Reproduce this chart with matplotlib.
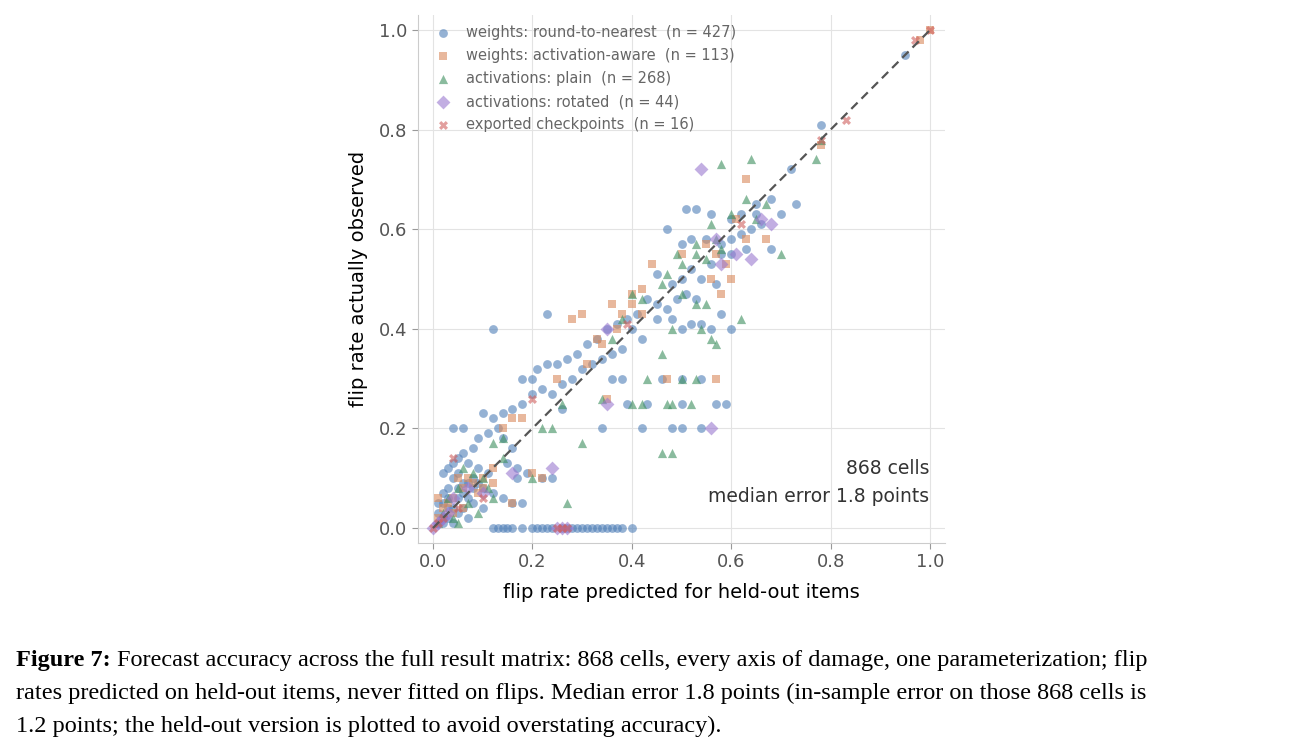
import matplotlib
matplotlib.use("Agg")
import matplotlib.pyplot as plt
import numpy as np

# (predicted, observed) pairs
rtn = [(0.95,0.95),(0.78,0.81),(0.72,0.72),(0.73,0.65),(0.68,0.66),(0.65,0.65),(0.62,0.63),(0.60,0.62),
       (0.56,0.63),(0.53,0.64),(0.51,0.64),(0.47,0.60),(0.50,0.57),(0.52,0.58),(0.55,0.58),(0.58,0.57),
       (0.60,0.58),(0.62,0.59),(0.64,0.60),(0.66,0.61),(0.45,0.51),(0.48,0.49),(0.50,0.50),(0.52,0.52),
       (0.54,0.50),(0.56,0.53),(0.58,0.55),(0.60,0.55),(0.63,0.56),(0.57,0.49),(0.53,0.46),(0.51,0.47),
       (0.49,0.46),(0.47,0.44),(0.45,0.45),(0.43,0.46),(0.41,0.43),(0.39,0.42),(0.37,0.41),(0.35,0.40),
       (0.33,0.38),(0.31,0.37),(0.29,0.35),(0.27,0.34),(0.25,0.33),(0.23,0.33),(0.21,0.32),(0.20,0.30),
       (0.18,0.30),(0.12,0.40),(0.23,0.43),(0.45,0.42),(0.48,0.42),(0.50,0.40),(0.52,0.41),(0.54,0.41),
       (0.56,0.40),(0.58,0.43),(0.60,0.40),(0.40,0.40),(0.42,0.38),(0.38,0.36),(0.36,0.35),(0.34,0.34),
       (0.32,0.33),(0.30,0.32),(0.28,0.30),(0.26,0.29),(0.24,0.27),(0.22,0.28),(0.20,0.27),(0.18,0.25),
       (0.16,0.24),(0.14,0.23),(0.12,0.22),(0.10,0.23),(0.13,0.20),(0.11,0.19),(0.09,0.18),(0.08,0.16),
       (0.06,0.15),(0.05,0.14),(0.04,0.13),(0.03,0.12),(0.02,0.11),(0.04,0.10),(0.06,0.09),(0.08,0.08),
       (0.10,0.08),(0.12,0.07),(0.14,0.06),(0.16,0.05),(0.18,0.05),(0.09,0.12),(0.11,0.11),(0.07,0.13),
       (0.03,0.08),(0.05,0.06),(0.02,0.05),(0.01,0.03),(0.03,0.02),(0.06,0.04),(0.08,0.05),(0.10,0.04),
       (0.07,0.02),(0.04,0.01),(0.02,0.02),(0.01,0.01),(0.05,0.03),(0.12,0.0),(0.14,0.0),(0.16,0.0),
       (0.18,0.0),(0.20,0.0),(0.22,0.0),(0.24,0.0),(0.28,0.0),(0.30,0.0),(0.32,0.0),(0.34,0.0),
       (0.36,0.0),(0.38,0.0),(0.40,0.0),(0.15,0.0),(0.26,0.0),(0.33,0.0),(0.06,0.20),(0.04,0.20),
       (0.36,0.30),(0.38,0.30),(0.46,0.30),(0.50,0.30),(0.54,0.30),(0.43,0.25),(0.50,0.25),(0.57,0.25),
       (0.59,0.25),(0.34,0.20),(0.42,0.20),(0.48,0.20),(0.50,0.20),(0.54,0.20),(0.39,0.25),(0.26,0.24),
       (0.68,0.56),(0.70,0.63),(0.65,0.63),(0.14,0.18),(0.16,0.16),(0.19,0.11),(0.22,0.10),(0.24,0.10),
       (0.17,0.10),(0.15,0.13),(0.17,0.12),(0.03,0.04),(0.05,0.08),(0.07,0.06),(0.09,0.09),(0.02,0.07),
       (0.01,0.05),(0.02,0.01),(0.03,0.06),(0.04,0.04),(0.06,0.07),(0.07,0.09),(0.08,0.10),(0.05,0.11),
       (0.21,0.0),(0.23,0.0),(0.27,0.0),(0.29,0.0),(0.31,0.0),(0.35,0.0),(0.37,0.0),(0.13,0.0)]
awq = [(1.0,1.0),(0.98,0.98),(0.78,0.77),(0.63,0.70),(0.61,0.62),(0.63,0.58),(0.67,0.58),(0.57,0.55),
       (0.59,0.53),(0.56,0.50),(0.60,0.50),(0.58,0.47),(0.55,0.57),(0.50,0.55),(0.44,0.53),(0.40,0.47),
       (0.42,0.48),(0.38,0.43),(0.37,0.40),(0.33,0.38),(0.28,0.42),(0.30,0.43),(0.36,0.45),(0.40,0.45),
       (0.42,0.43),(0.34,0.37),(0.31,0.33),(0.47,0.30),(0.57,0.30),(0.25,0.30),(0.35,0.26),(0.16,0.22),
       (0.18,0.22),(0.14,0.20),(0.12,0.12),(0.10,0.10),(0.08,0.09),(0.06,0.08),(0.04,0.06),(0.03,0.05),
       (0.02,0.04),(0.01,0.02),(0.05,0.10),(0.07,0.10),(0.09,0.07),(0.10,0.08),(0.04,0.03),(0.06,0.04),
       (0.16,0.05),(0.22,0.10),(0.20,0.11),(0.12,0.09),(0.01,0.06)]
plain = [(0.78,0.78),(0.77,0.74),(0.64,0.74),(0.58,0.73),(0.63,0.66),(0.67,0.65),(0.60,0.63),(0.56,0.61),
         (0.70,0.55),(0.65,0.62),(0.57,0.58),(0.53,0.57),(0.58,0.56),(0.53,0.55),(0.55,0.54),(0.49,0.55),
         (0.47,0.51),(0.50,0.53),(0.40,0.47),(0.42,0.46),(0.38,0.42),(0.46,0.49),(0.50,0.47),(0.53,0.45),
         (0.55,0.45),(0.62,0.42),(0.48,0.40),(0.54,0.40),(0.56,0.38),(0.57,0.37),(0.46,0.35),(0.36,0.38),
         (0.43,0.30),(0.50,0.30),(0.53,0.30),(0.40,0.25),(0.42,0.25),(0.47,0.25),(0.48,0.25),(0.52,0.25),
         (0.34,0.26),(0.26,0.25),(0.24,0.20),(0.22,0.20),(0.46,0.15),(0.48,0.15),(0.30,0.17),(0.14,0.18),
         (0.12,0.17),(0.27,0.05),(0.06,0.12),(0.08,0.11),(0.05,0.08),(0.03,0.06),(0.02,0.03),(0.04,0.02),
         (0.01,0.01),(0.10,0.10),(0.11,0.08),(0.07,0.05),(0.09,0.03),(0.12,0.06),(0.20,0.10),(0.05,0.01),
         (0.14,0.14)]
rotated = [(0.54,0.72),(0.66,0.62),(0.68,0.61),(0.57,0.58),(0.61,0.55),(0.64,0.54),(0.58,0.53),(0.35,0.40),
           (0.35,0.25),(0.56,0.20),(0.16,0.11),(0.24,0.12),(0.07,0.08),(0.04,0.06),(0.02,0.02),(0.00,0.0),
           (0.01,0.01),(0.03,0.03),(0.26,0.0),(0.27,0.0),(0.25,0.0),(0.10,0.07)]
exported = [(1.0,1.0),(0.97,0.98),(0.83,0.82),(0.78,0.78),(0.62,0.61),(0.04,0.14),(0.10,0.06),(0.05,0.04),
            (0.02,0.02),(0.0,0.0),(0.01,0.01),(0.25,0.0),(0.27,0.0),(0.26,0.0),(0.39,0.41),(0.20,0.26)]

series = [
    ("weights: round-to-nearest  (n = 427)", rtn, "o", "#4f7fb8", 40),
    ("weights: activation-aware  (n = 113)", awq, "s", "#d98a5c", 40),
    ("activations: plain  (n = 268)", plain, "^", "#3d8f5e", 44),
    ("activations: rotated  (n = 44)", rotated, "D", "#9a78d0", 50),
    ("exported checkpoints  (n = 16)", exported, "X", "#d0605e", 42),
]

plt.rcParams['font.family'] = ['DejaVu Sans']
fig = plt.figure(figsize=(12.9, 7.54), dpi=100)
ax = fig.add_axes([418/1290, 1-543/754, 527/1290, 528/754])

for label, pts, m, c, s in series:
    p = np.array(pts)
    ax.scatter(p[:, 0], p[:, 1], marker=m, color=c, s=s, alpha=0.6, linewidths=0, label=label)

ax.plot([0, 1], [0, 1], ls="--", color="#555555", lw=1.6, dashes=(4, 2.5))
ax.set_xlim(-0.03, 1.03)
ax.set_ylim(-0.03, 1.03)
ax.set_xticks(np.arange(0, 1.01, 0.2))
ax.set_yticks(np.arange(0, 1.01, 0.2))
ax.grid(color="#e3e3e3", lw=0.8)
ax.set_axisbelow(True)
for sp in ["top", "right"]:
    ax.spines[sp].set_visible(False)
for sp in ["left", "bottom"]:
    ax.spines[sp].set_color("#cccccc")
ax.tick_params(colors="#555555", labelsize=13, length=4, color="#999999")
ax.set_xlabel("flip rate predicted for held-out items", fontsize=14, labelpad=8)
ax.set_ylabel("flip rate actually observed", fontsize=14, labelpad=8)
leg = ax.legend(loc="upper left", fontsize=10.5, frameon=False, handletextpad=0.6,
                labelspacing=0.55, borderaxespad=0.3)
for t in leg.get_texts():
    t.set_color("#666666")
ax.text(0.97, 0.07, "868 cells\nmedian error 1.8 points", transform=ax.transAxes,
        ha="right", va="bottom", fontsize=13.5, color="#333333", linespacing=1.6)

# caption: bold label then plain text, serif
lines = ["Forecast accuracy across the full result matrix: 868 cells, every axis of damage, one parameterization; flip",
         "rates predicted on held-out items, never fitted on flips. Median error 1.8 points (in-sample error on those 868 cells is",
         "1.2 points; the held-out version is plotted to avoid overstating accuracy)."]
x0, y0, dy, fs = 16/1290, 1-650/754, 33/754, 17.5
lab = fig.text(x0, y0, "Figure 7:", ha="left", va="top", fontsize=fs,
               family="Liberation Serif", weight="bold")
fig.canvas.draw()
bb = lab.get_window_extent().transformed(fig.transFigure.inverted())
fig.text(bb.x1 + 6/1290, y0, lines[0], ha="left", va="top", fontsize=fs, family="Liberation Serif")
for i, ln in enumerate(lines[1:], start=1):
    fig.text(x0, y0 - i*dy, ln, ha="left", va="top", fontsize=fs, family="Liberation Serif")

fig.savefig("out.png", dpi=100)
